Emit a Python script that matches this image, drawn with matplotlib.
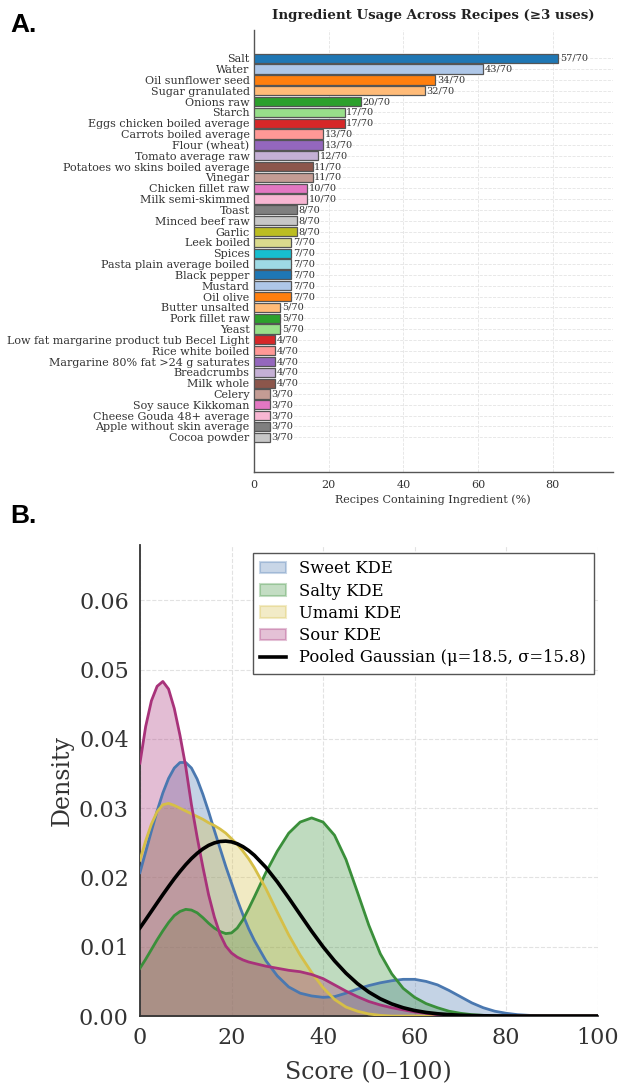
import numpy as np
import matplotlib
matplotlib.use("Agg")
import matplotlib.pyplot as plt
from matplotlib.patches import Patch
from matplotlib.lines import Line2D

# ---- Panel A data: ingredient usage (count out of 70 recipes) ----
ingredients = [
    "Salt", "Water", "Oil sunflower seed", "Sugar granulated", "Onions raw",
    "Starch", "Eggs chicken boiled average", "Carrots boiled average",
    "Flour (wheat)", "Tomato average raw", "Potatoes wo skins boiled average",
    "Vinegar", "Chicken fillet raw", "Milk semi-skimmed", "Toast",
    "Minced beef raw", "Garlic", "Leek boiled", "Spices",
    "Pasta plain average boiled", "Black pepper", "Mustard", "Oil olive",
    "Butter unsalted", "Pork fillet raw", "Yeast",
    "Low fat margarine product tub Becel Light", "Rice white boiled",
    "Margarine 80% fat >24 g saturates", "Breadcrumbs", "Milk whole",
    "Celery", "Soy sauce Kikkoman", "Cheese Gouda 48+ average",
    "Apple without skin average", "Cocoa powder",
]
counts = [57, 43, 34, 32, 20, 17, 17, 13, 13, 12, 11, 11, 10, 10, 8, 8, 8,
          7, 7, 7, 7, 7, 7, 5, 5, 5, 4, 4, 4, 4, 4, 3, 3, 3, 3, 3]
n_recipes = 70

# ---- Panel B data: densities at these scores ----
score_grid = [0, 1.25, 2.5, 3.75, 5, 6.25, 7.5, 8.75, 10, 11.25, 12.5, 13.75,
              15, 16.25, 17.5, 18.75, 20, 21.25, 22.5, 23.75, 25,
              27.5, 30, 32.5, 35, 37.5, 40, 42.5, 45, 47.5, 50, 52.5, 55,
              57.5, 60, 62.5, 65, 67.5, 70, 72.5, 75, 77.5, 80, 82.5, 85,
              87.5, 90, 92.5, 95, 97.5, 100]
sweet_kde = [0.0207, 0.0237, 0.0267, 0.0296, 0.0322, 0.0343, 0.0358, 0.0366,
             0.0366, 0.0358, 0.0342, 0.0320, 0.0295, 0.0268, 0.0242, 0.0216,
             0.0192, 0.0168, 0.0146, 0.0126, 0.0109,
             0.0080, 0.0058, 0.0042, 0.0033, 0.0029, 0.0027, 0.0028, 0.0033,
             0.0039, 0.0044, 0.0048, 0.0051, 0.0053, 0.0053, 0.0050, 0.0045,
             0.0037, 0.0028, 0.0019, 0.0012, 0.0007, 0.0004, 0.0002, 0.0001,
             0.00003, 0, 0, 0, 0, 0]
salty_kde = [0.0069, 0.0082, 0.0096, 0.0110, 0.0123, 0.0135, 0.0145, 0.0151,
             0.0154, 0.0153, 0.0149, 0.0142, 0.0134, 0.0127, 0.0122, 0.0119,
             0.0120, 0.0127, 0.0139, 0.0155, 0.0172,
             0.0207, 0.0238, 0.0264, 0.0280, 0.0286, 0.0280, 0.0261, 0.0226,
             0.0179, 0.0131, 0.0090, 0.0061, 0.0040, 0.0027, 0.0018, 0.0012,
             0.0007, 0.0004, 0.0002, 0.0001, 0, 0, 0, 0, 0, 0, 0, 0, 0, 0]
umami_kde = [0.0225, 0.0253, 0.0277, 0.0295, 0.0305, 0.0307, 0.0304, 0.0300,
             0.0296, 0.0292, 0.0288, 0.0284, 0.0279, 0.0275, 0.0270, 0.0264,
             0.0256, 0.0248, 0.0238, 0.0227, 0.0214,
             0.0184, 0.0150, 0.0117, 0.0088, 0.0063, 0.0041, 0.0024, 0.0013,
             0.0007, 0.0003, 0.0001, 0, 0, 0, 0, 0, 0, 0, 0, 0, 0, 0, 0, 0,
             0, 0, 0, 0, 0, 0]
sour_kde = [0.0365, 0.0418, 0.0455, 0.0476, 0.0483, 0.0472, 0.0444, 0.0405,
            0.0360, 0.0305, 0.0258, 0.0215, 0.0175, 0.0143, 0.0118, 0.0101,
            0.0091, 0.0085, 0.0081, 0.0078, 0.0076,
            0.0072, 0.0069, 0.0066, 0.0064, 0.0060, 0.0054, 0.0045, 0.0036,
            0.0028, 0.0021, 0.0016, 0.0012, 0.0009, 0.0006, 0.0004, 0.0002,
            0.0001, 0.00005, 0, 0, 0, 0, 0, 0, 0, 0, 0, 0, 0, 0]
pooled_gauss = [0.01272, 0.01391, 0.01512, 0.01633, 0.01753, 0.01869, 0.01982,
                0.02087, 0.02185, 0.02273, 0.02349, 0.02413, 0.02464, 0.02499,
                0.02520, 0.02525, 0.02514, 0.02487, 0.02445, 0.02389, 0.02320,
                0.02147, 0.01937, 0.01705, 0.01464, 0.01225, 0.01000, 0.00797,
                0.00619, 0.00468, 0.00346, 0.00249, 0.00175, 0.00120, 0.00080,
                0.00052, 0.00033, 0.00021, 0.00012, 0.00007, 0.00004, 0.00002,
                0.00001, 0, 0, 0, 0, 0, 0, 0, 0]
pooled_mu, pooled_sigma = 18.5, 15.8

plt.rcParams["font.family"] = ["DejaVu Serif"]

fig = plt.figure(figsize=(6.22, 10.91), dpi=100)

# ---------------- Panel A ----------------
ax1 = fig.add_axes([0.408, 0.5674, 0.577, 0.405])
pct = np.array(counts) / n_recipes * 100
ypos = np.arange(len(ingredients))
cmap = plt.get_cmap("tab20")
bar_colors = [cmap(i % 20) for i in range(len(ingredients))]
ax1.barh(ypos, pct, height=0.85, color=bar_colors, edgecolor="#555555",
         linewidth=0.9, zorder=3)
for y, p, c in zip(ypos, pct, counts):
    ax1.text(p + 0.4, y, f"{c}/{n_recipes}", va="center", ha="left",
             fontsize=7, color="#333333", zorder=4)
ax1.set_yticks(ypos)
ax1.set_yticklabels(ingredients, fontsize=8, color="#333333")
ax1.set_ylim(38.2, -2.6)
ax1.set_xlim(0, 96)
ax1.set_xticks([0, 20, 40, 60, 80])
ax1.tick_params(axis="x", labelsize=8, colors="#333333", length=0, pad=6)
ax1.tick_params(axis="y", length=0, pad=3)
ax1.set_xlabel("Recipes Containing Ingredient (%)", fontsize=8,
               color="#333333", labelpad=3)
ax1.set_title("Ingredient Usage Across Recipes (\u22653 uses)", fontsize=9.6,
              fontweight="bold", color="#222222", pad=8)
ax1.grid(True, linestyle="--", color="#e4e4e4", linewidth=0.6, zorder=0)
for side in ["top", "right"]:
    ax1.spines[side].set_visible(False)
for side in ["left", "bottom"]:
    ax1.spines[side].set_color("#555555")
    ax1.spines[side].set_linewidth(1.0)

# ---------------- Panel B ----------------
ax2 = fig.add_axes([0.225, 0.0687, 0.736, 0.4318])
series = [
    ("Sweet KDE", sweet_kde, "#4a78b0"),
    ("Salty KDE", salty_kde, "#3a8f3a"),
    ("Umami KDE", umami_kde, "#d6bf47"),
    ("Sour KDE", sour_kde, "#a8327a"),
]
handles = []
for label, vals, col in series:
    ax2.fill_between(score_grid, vals, color=col, alpha=0.32, linewidth=0,
                     zorder=2)
    ax2.plot(score_grid, vals, color=col, linewidth=2.0, zorder=3,
             solid_joinstyle="round")
    handles.append(Patch(facecolor=col, edgecolor=col, alpha=0.3,
                         linewidth=1.5, label=label))
ax2.plot(score_grid, pooled_gauss, color="black", linewidth=2.6, zorder=4,
         solid_joinstyle="round")
handles.append(Line2D([0], [0], color="black", linewidth=2.6,
                      label=f"Pooled Gaussian (\u03bc={pooled_mu}, "
                            f"\u03c3={pooled_sigma})"))

ax2.set_xlim(0, 100)
ax2.set_ylim(0, 0.068)
ax2.set_xticks([0, 20, 40, 60, 80, 100])
ax2.set_yticks([0.0, 0.01, 0.02, 0.03, 0.04, 0.05, 0.06])
ax2.set_yticklabels(["0.00", "0.01", "0.02", "0.03", "0.04", "0.05", "0.06"])
ax2.tick_params(labelsize=16, colors="#333333", length=0, pad=8)
ax2.set_xlabel("Score (0\u2013100)", fontsize=17, color="#333333", labelpad=9)
ax2.set_ylabel("Density", fontsize=17, color="#333333")
ax2.grid(True, linestyle="--", color="#e2e2e2", linewidth=0.8, zorder=0)
for side in ["top", "right"]:
    ax2.spines[side].set_visible(False)
for side in ["left", "bottom"]:
    ax2.spines[side].set_color("#333333")
    ax2.spines[side].set_linewidth(1.3)
leg = ax2.legend(handles=handles, loc="upper right", fontsize=11.8,
                 frameon=True, fancybox=False, framealpha=1,
                 edgecolor="#555555", borderpad=0.45, labelspacing=0.32,
                 handlelength=1.6, handletextpad=0.8, borderaxespad=0,
                 bbox_to_anchor=(0.991, 0.983))
leg.get_frame().set_linewidth(1.0)

# Panel letters
fig.text(0.016, 0.988, "A.", fontsize=19, fontweight="bold",
         family="Liberation Sans", va="top", ha="left")
fig.text(0.016, 0.538, "B.", fontsize=19, fontweight="bold",
         family="Liberation Sans", va="top", ha="left")

fig.savefig("out.png", dpi=100)
